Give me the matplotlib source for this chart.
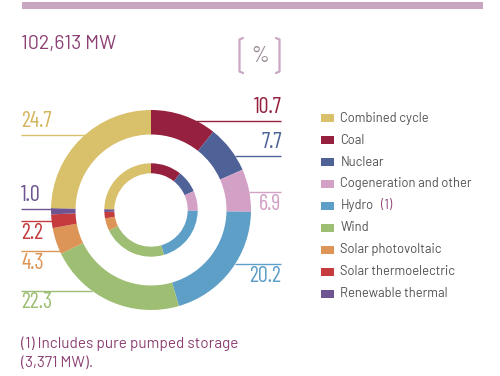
import numpy as np
import matplotlib
matplotlib.use("Agg")
import matplotlib.pyplot as plt
from matplotlib.patches import Rectangle
from matplotlib.lines import Line2D

# ---------------- data ----------------
categories = ["Combined cycle", "Coal", "Nuclear", "Cogeneration and other",
              "Hydro", "Wind", "Solar photovoltaic", "Solar thermoelectric",
              "Renewable thermal"]
shares = [24.7, 10.7, 7.7, 6.9, 20.2, 22.3, 4.3, 2.2, 1.0]
inner_shares = [24.7, 10.7, 7.7, 6.9, 20.2, 22.3, 4.3, 2.2, 1.0]
value_labels = ["24.7", "10.7", "7.7", "6.9", "20.2", "22.3", "4.3", "2.2", "1.0"]
total_label = "102,613 MW"
unit_label = "%"
footnote = ["(1) Includes pure pumped storage", "(3,371 MW)."]

colors = ["#D9C06B", "#95213F", "#4E6298", "#D3A0C6", "#5E9FC8",
          "#9DBE73", "#DC9556", "#C63B3E", "#6E5591"]
text_colors = ["#D4B65E", "#95213F", "#4E6298", "#D3A0C6", "#5E9FC8",
               "#9DBE73", "#DC9556", "#C63B3E", "#6E5591"]
PURPLE = "#8C3F72"

# pie order (clockwise from top): coal ... renewable thermal, then combined cycle
order = [1, 2, 3, 4, 5, 6, 7, 8, 0]

# label layout: (line height in radius units, side, text above line?)
label_layout = {
    1: (0.89, "R", True),
    2: (0.54, "R", True),
    3: (0.183, "R", False),
    4: (-0.543, "R", False),
    0: (0.75, "L", True),
    8: (0.007, "L", True),
    7: (-0.107, "L", False),
    6: (-0.407, "L", False),
    5: (-0.805, "L", False),
}

NUM_FONT = ["Barlow Condensed", "DejaVu Sans"]
TXT_FONT = ["Barlow", "DejaVu Sans"]

W, H = 500, 376
fig = plt.figure(figsize=(W / 100, H / 100), dpi=100)
fig.patch.set_facecolor("white")


def fx(x):
    return x / W


def fy(y):
    return 1 - y / H


# top bar
fig.patches.append(Rectangle((fx(22), fy(9)), fx(483) - fx(22), fy(2) - fy(9),
                             transform=fig.transFigure, color="#C8A6C0", lw=0))

# title
fig.text(fx(21), fy(44), total_label, fontsize=14, color=PURPLE, family=TXT_FONT,
         va="center", ha="left")

# % with brackets
bc = "#C9A6C1"
for xv, xs in [(239.5, 243), (279.5, 276)]:
    fig.add_artist(Line2D([fx(xs), fx(xv), fx(xv), fx(xs)],
                          [fy(38), fy(39.5), fy(71.5), fy(73)],
                          transform=fig.transFigure, color=bc, lw=1.6,
                          solid_joinstyle="round", solid_capstyle="round"))
fig.text(fx(260), fy(57), unit_label, fontsize=16, color="#9B8A96", family=NUM_FONT,
         ha="center", va="center")

# donut axes: center (151,210) px, radius 100 px
cx, cy, R = 151, 210, 100
ax = fig.add_axes([fx(cx - R), fy(cy + R), 2 * R / W, 2 * R / H])
vals = [shares[i] for i in order]
ivals = [inner_shares[i] for i in order]
cols = [colors[i] for i in order]
ax.pie(vals, radius=1.0, startangle=90, counterclock=False, colors=cols,
       wedgeprops=dict(width=0.245, linewidth=0))
ax.pie(ivals, radius=0.467, startangle=90, counterclock=False, colors=cols,
       wedgeprops=dict(width=0.10, linewidth=0))
ax.set_xlim(-1, 1)
ax.set_ylim(-1, 1)
ax.set_aspect("auto")
ax.axis("off")

# leader lines and labels
x_end = 1.30
for i, (yl, side, above) in label_layout.items():
    xe = np.sqrt(max(1 - yl ** 2, 0)) * 0.995
    if side == "R":
        ax.plot([xe, x_end], [yl, yl], color=colors[i], lw=1.0, clip_on=False,
                solid_capstyle="butt")
        tx, ha = x_end + 0.005, "right"
    else:
        ax.plot([-x_end, -xe], [yl, yl], color=colors[i], lw=1.0, clip_on=False,
                solid_capstyle="butt")
        tx, ha = -x_end, "left"
    ty = yl + 0.135 if above else yl - 0.125
    ax.text(tx, ty, value_labels[i], color=text_colors[i], fontsize=16,
            family=NUM_FONT, ha=ha, va="center", clip_on=False)

# legend
fig.canvas.draw()
renderer = fig.canvas.get_renderer()
for k, name in enumerate(categories):
    yc = 118.3 + k * 21.9
    fig.patches.append(Rectangle((fx(321), fy(yc + 4)), fx(334) - fx(321), fy(yc - 4) - fy(yc + 4),
                                 transform=fig.transFigure, color=colors[k], lw=0))
    t = fig.text(fx(340.5), fy(yc), name, fontsize=9.3, color="#505050",
                 family=TXT_FONT, ha="left", va="center")
    if name == "Hydro":
        bb = t.get_window_extent(renderer)
        fig.text(fx(bb.x1 + 7), fy(yc), "(1)", fontsize=9.3, color=PURPLE,
                 family=TXT_FONT, ha="left", va="center")

# footnote
for k, line in enumerate(footnote):
    fig.text(fx(21), fy(344 + k * 18.7), line, fontsize=11, color=PURPLE,
             family=TXT_FONT, ha="left", va="center")

fig.savefig("out.png", dpi=100)
